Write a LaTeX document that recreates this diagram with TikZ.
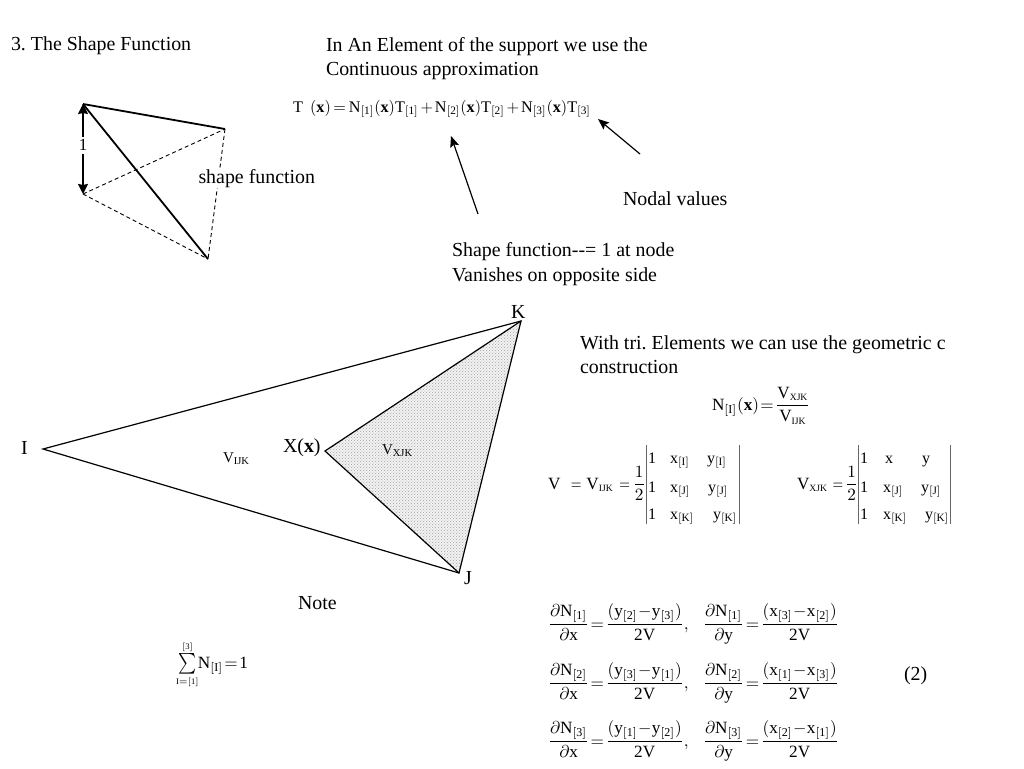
\documentclass[tikz,border=0pt]{standalone}
\usepackage{amsmath}
\usepackage{fontspec}
\setmainfont{Liberation Serif}
\usetikzlibrary{arrows.meta,patterns}
\pgfdeclarepatternformonly{stip}{\pgfqpoint{-0.5pt}{-0.5pt}}{\pgfqpoint{3.5pt}{3.5pt}}{\pgfqpoint{3pt}{3pt}}{
  \pgfpathcircle{\pgfqpoint{0.4pt}{0.4pt}}{0.45pt}
  \pgfpathcircle{\pgfqpoint{1.9pt}{1.9pt}}{0.45pt}
  \pgfusepath{fill}}
\medmuskip=0.5mu plus 0mu minus 0mu
\thickmuskip=1.5mu plus 0mu minus 0mu
\newcommand\R[1]{\mathrm{#1}}
\newcommand\Nn[1]{\mathrm{N}_{\mathrm{[#1]}}}
\newcommand\Tn[1]{\mathrm{T}_{\mathrm{[#1]}}}
\newcommand\Vs[1]{\mathrm{V}_{\scalebox{0.8}{$\scriptstyle\mathrm{#1}$}}}
\newcommand\Eqs{\mathord{\scalebox{0.8}[1]{$=$}}}
\newcommand\bx{\mathbf{(x)}}
\newcommand\dd[3]{\dfrac{\partial\Nn{#1}}{\partial\mathrm{#2}}}
\newcommand\rr[3]{\dfrac{(\mathrm{#1}_{\mathrm{[#2]}}-\mathrm{#1}_{\mathrm{[#3]}})}{\mathrm{2V}}}
\tikzset{
  txt/.style={anchor=base west,inner sep=0pt,outer sep=0pt,yshift=-1.2pt,font=\fontsize{19.9}{23}\selectfont\frenchspacing},
  eq/.style={anchor=base west,inner sep=0pt,outer sep=0pt,scale=1.72},
  eqsm/.style={anchor=base west,inner sep=0pt,outer sep=0pt,scale=1.62},
  ent/.style={anchor=base west,inner sep=0pt,outer sep=0pt,scale=1.6},
  vlab/.style={anchor=base west,inner sep=0pt,outer sep=0pt,scale=1.5},
  thk/.style={line width=1.8pt,black},
  dsh/.style={line width=0.9pt,dashed,dash pattern=on 4pt off 3pt,black},
  edge/.style={line width=1.2pt,black},
  arr/.style={line width=1.2pt,-{Stealth[length=11pt,width=9pt,inset=2pt]}},
  bar/.style={line width=1pt,black!60}
}
\begin{document}
\begin{tikzpicture}[x=1pt,y=-1pt]
\useasboundingbox (0,0) rectangle (1024,768);
% headings
\node[txt] (title) at (11,49) {3. The Shape Function};
\node[txt] (in1) at (326,50) {In An Element of the support we use the};
\node[txt] (in2) at (326,74) {Continuous approximation};
\node[txt] (nodal) at (623,204) {Nodal values};
\node[txt] (sf1) at (452,255) {Shape function-{}-= 1 at node};
\node[txt] (sf2) at (452,280) {Vanishes on opposite side};
\node[txt] (tri1) at (580,348) {With tri. Elements we can use the geometric c};
\node[txt] (tri2) at (580,372) {construction};
\node[txt] (note) at (298,608) {Note};
\node[txt] (two) at (904,679) {(2)};
% small triangle
\coordinate (a) at (83,104);
\coordinate (b) at (225,129);
\coordinate (c) at (208,259);
\coordinate (d) at (83,194);
\draw[dsh] (d) -- (b);
\draw[dsh] (d) -- (c);
\draw[dsh] (b) -- (c);
\draw[thk] (a) -- (b);
\draw[thk] (a) -- (c);
\draw[line width=1.8pt,{Stealth[length=10pt,width=10pt,inset=1pt]}-{Stealth[length=10pt,width=10pt,inset=1pt]}] (a) -- (d);
\node[txt,fill=white,inner xsep=1pt,inner ysep=3pt,anchor=center,font=\fontsize{17}{20}\selectfont] (one) at (83,144) {1};
\node[txt,fill=white,inner sep=1pt] (shp) at (197.5,182) {shape function};
% main equation
\node[eqsm] (eqT) at (293,112) {$\thickmuskip=3mu\medmuskip=2mu\R{T}\mskip 8mu\bx=\Nn{1}\bx\Tn{1}+\Nn{2}\bx\Tn{2}+\Nn{3}\bx\Tn{3}$};
\coordinate (p1) at (478,214);
\coordinate (p2) at (451,136);
\coordinate (p3) at (640,154);
\coordinate (p4) at (598,119);
\draw[arr] (p1) -- (p2);
\draw[arr] (p3) -- (p4);
% large triangle
\coordinate (I) at (43,449);
\coordinate (K) at (521,321);
\coordinate (J) at (459,573);
\coordinate (X) at (325,451);
\fill[black!5] (X) -- (K) -- (J) -- cycle;
\fill[pattern=stip,pattern color=black!40] (X) -- (K) -- (J) -- cycle;
\draw[edge,line join=miter] (I) -- (K) -- (J) -- cycle;
\draw[edge] (K) -- (X) -- (J);
\node[txt] (lI) at (21,453) {I};
\node[txt] (lK) at (511,317) {K};
\node[txt] (lJ) at (464,583) {J};
\node[txt] (lX) at (283,451) {X(\textbf{x})};
\node[vlab] (vi) at (223,462) {$\R{V}_{\R{IJK}}$};
\node[vlab] (vx) at (382,454) {$\R{V}_{\R{XJK}}$};
% shape function formula
\node[eq] (nI) at (712,410) {$\Nn{I}\bx=\dfrac{\Vs{XJK}}{\Vs{IJK}}$};
% determinants
\node[eq] (vl) at (548,489) {$\R{V}\mskip 11mu\Eqs\mskip 5mu\Vs{IJK}\mskip 6mu\Eqs\mskip 3mu\dfrac{1}{2}$};
\draw[bar] (646,445) -- (646,524);
\draw[bar] (739,445) -- (739,524);
\node[ent] (l11) at (648,463) {$\R{1}$};
\node[ent] (l12) at (670,463) {$\R{x}_{\R{[I]}}$};
\node[ent] (l13) at (707,463) {$\R{y}_{\R{[I]}}$};
\node[ent] (l21) at (648,492) {$\R{1}$};
\node[ent] (l22) at (670,492) {$\R{x}_{\R{[J]}}$};
\node[ent] (l23) at (708,492) {$\R{y}_{\R{[J]}}$};
\node[ent] (l31) at (648,519) {$\R{1}$};
\node[ent] (l32) at (670,519) {$\R{x}_{\R{[K]}}$};
\node[ent] (l33) at (713,519) {$\R{y}_{\R{[K]}}$};
\node[eq] (vr) at (797,489) {$\Vs{XJK}\mskip 5mu\Eqs\mskip 2mu\dfrac{1}{2}$};
\draw[bar] (858,445) -- (858,524);
\draw[bar] (950,445) -- (950,524);
\node[ent] (r11) at (860,463) {$\R{1}$};
\node[ent] (r12) at (885,463) {$\R{x}$};
\node[ent] (r13) at (922,463) {$\R{y}$};
\node[ent] (r21) at (860,492) {$\R{1}$};
\node[ent] (r22) at (883,492) {$\R{x}_{\R{[J]}}$};
\node[ent] (r23) at (921,492) {$\R{y}_{\R{[J]}}$};
\node[ent] (r31) at (860,519) {$\R{1}$};
\node[ent] (r32) at (883,519) {$\R{x}_{\R{[K]}}$};
\node[ent] (r33) at (925,519) {$\R{y}_{\R{[K]}}$};
% derivatives
\node[eq] (d1a) at (548,629) {$\dd{1}{x}{}=\rr{y}{2}{3},$};
\node[eq] (d1b) at (703,629) {$\dd{1}{y}{}=\rr{x}{3}{2}$};
\node[eq] (d2a) at (548,688) {$\dd{2}{x}{}=\rr{y}{3}{1},$};
\node[eq] (d2b) at (703,688) {$\dd{2}{y}{}=\rr{x}{1}{3}$};
\node[eq] (d3a) at (548,746) {$\dd{3}{x}{}=\rr{y}{1}{2},$};
\node[eq] (d3b) at (703,746) {$\dd{3}{y}{}=\rr{x}{2}{1}$};
% sum
\node[eq] (sum) at (176,668) {$\mathop{\vcenter{\hbox{\scalebox{1}[1.2]{$\textstyle\sum$}}}}\limits_{\scriptscriptstyle\R{I=[1]}}^{\scriptscriptstyle\R{[3]}}\mskip -4mu\Nn{I}=\R{1}$};
\end{tikzpicture}
\end{document}
